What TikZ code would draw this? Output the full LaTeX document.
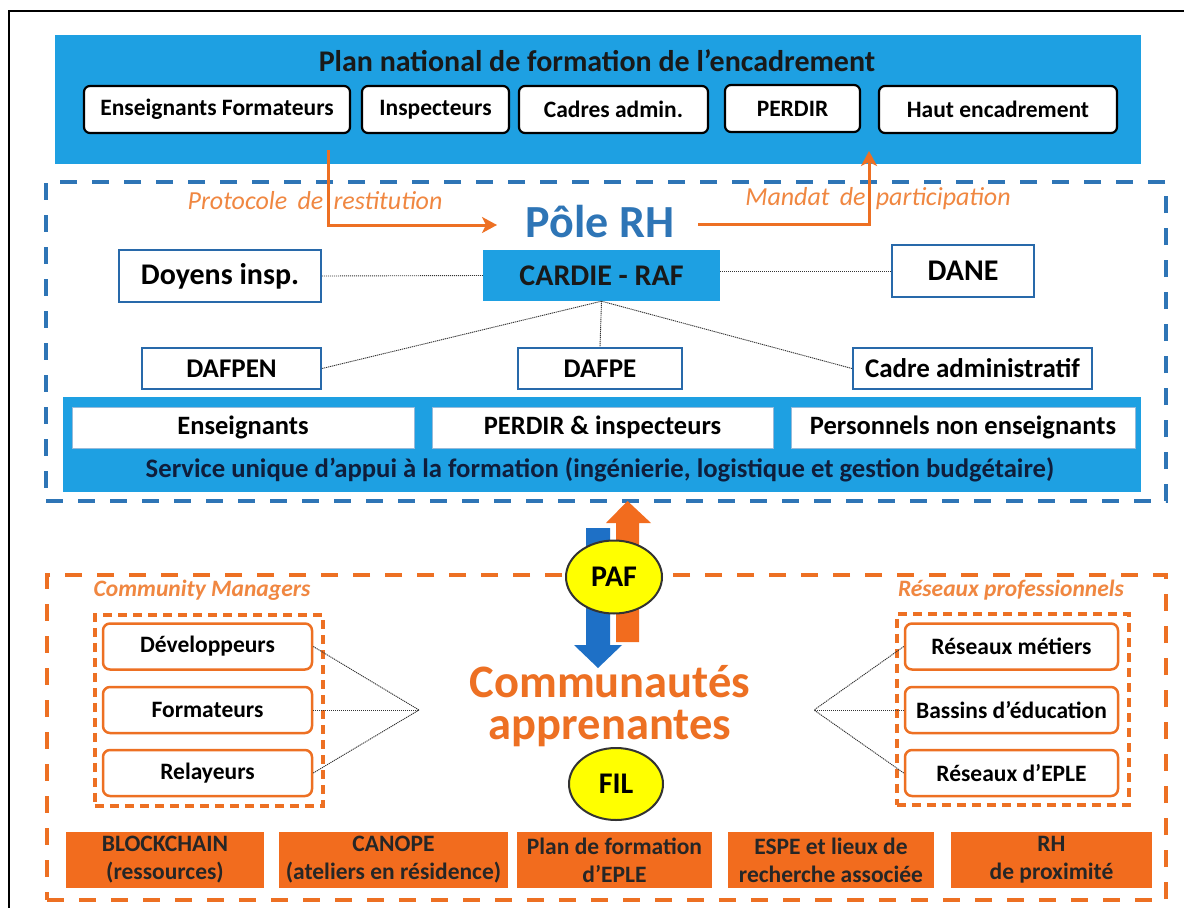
\documentclass[tikz,border=0pt]{standalone}
\usepackage{fontspec}
\setmainfont{Carlito}
\usetikzlibrary{arrows.meta,shapes.geometric}
\definecolor{bannerblue}{RGB}{30,160,226}
\definecolor{dashblue}{RGB}{46,117,182}
\definecolor{boxblue}{RGB}{40,105,170}
\definecolor{orng}{RGB}{237,112,35}
\definecolor{lightorng}{RGB}{240,135,65}
\definecolor{boxorng}{RGB}{242,108,30}
\definecolor{arrblue}{RGB}{30,112,198}
\definecolor{yel}{RGB}{255,255,0}
\definecolor{navytext}{RGB}{15,30,60}
\newcommand{\myfs}[1]{\fontsize{#1}{#1}\selectfont}
\tikzset{
  topbox/.style={draw=black, line width=2.2pt, rounded corners=6pt, fill=white, inner sep=0pt, font=\myfs{23.5}\bfseries},
  bluebox/.style={draw=boxblue, line width=2pt, fill=white, inner sep=0pt},
  whitebox/.style={draw=dashblue!50, line width=1pt, fill=white, inner sep=0pt, font=\myfs{26.5}\bfseries},
  orbox/.style={draw=orng, line width=2.5pt, rounded corners=7pt, fill=white, inner sep=0pt, minimum height=46, font=\myfs{23.5}\bfseries},
  botbox/.style={fill=boxorng, inner sep=0pt, minimum height=56, align=center, font=\fontsize{23.5}{28}\selectfont\bfseries, text=black!85},
  dotline/.style={black!80, line width=0.9pt, dash pattern=on 1.2pt off 0.8pt},
  bigdash/.style={line width=4pt, dash pattern=on 17pt off 15pt},
  smalldash/.style={draw=orng, line width=3.5pt, dash pattern=on 9pt off 6pt},
  flowarrow/.style={orng, line width=3pt, -{Stealth[length=15pt,width=16pt,inset=4pt]}},
  oval/.style={ellipse, draw=black!80, line width=2pt, fill=yel, inner sep=0pt, font=\myfs{30}\bfseries},
}
\begin{document}
\begin{tikzpicture}[x=1pt,y=-1pt]
\useasboundingbox (0,0) rectangle (1184,908);
\fill[white] (0,0) rectangle (1184,908);
\draw[line width=1.5pt] (9,910) -- (9,11) -- (1186,11);

% top banner
\node[fill=bannerblue, inner sep=0pt, minimum width=1086, minimum height=129, anchor=north west] (banner) at (55,35) {};
\node[font=\myfs{30}\bfseries, text=black!90] (title) at (597,61) {Plan national de formation de l’encadrement};
\node[topbox, minimum width=266, minimum height=47] (ef) at (217,109.5) {Enseignants Formateurs};
\node[topbox, minimum width=147, minimum height=47] (insp) at (435.5,109.5) {Inspecteurs};
\node[topbox, minimum width=189, minimum height=47] (cadres) at (613.5,109.5) {Cadres admin.};
\node[topbox, minimum width=135, minimum height=47] (perdir) at (792.5,108.5) {PERDIR};
\node[topbox, minimum width=238, minimum height=47] (haut) at (998,109.5) {Haut encadrement};

% Pole RH frame
\node[draw=dashblue, bigdash, inner sep=0pt, minimum width=1120, minimum height=319, anchor=north west] (rhframe) at (44,180) {};
\node[font=\myfs{46}\bfseries, text=dashblue] (pole) at (600,222) {Pôle RH};
\node[font=\myfs{26}\itshape, text=lightorng] (proto) at (315,201) {Protocole\, de\, restitution};
\node[font=\myfs{26}\itshape, text=lightorng] (mandat) at (878,199) {Mandat\, de\, participation};
\coordinate (a1s) at (328,150);
\coordinate (a1e) at (497,225);
\coordinate (a2s) at (698,224);
\coordinate (a2e) at (869,151);
\draw[flowarrow] (a1s) |- (a1e);
\draw[flowarrow] (a2s) -| (a2e);

\node[fill=bannerblue, inner sep=0pt, minimum width=237, minimum height=51, font=\myfs{30}\bfseries, text=black!90] (cardie) at (601.5,275.5) {CARDIE - RAF};
\node[bluebox, minimum width=202, minimum height=52, font=\myfs{30}\bfseries] (doyens) at (220,276) {Doyens insp.};
\node[bluebox, minimum width=142, minimum height=52, font=\myfs{30}\bfseries] (dane) at (963,271) {DANE};
\node[bluebox, minimum width=179, minimum height=41, font=\myfs{27}\bfseries] (dafpen) at (231.5,368.5) {DAFPEN};
\node[bluebox, minimum width=164, minimum height=41, font=\myfs{27}\bfseries] (dafpe) at (600,368.5) {DAFPE};
\node[bluebox, minimum width=239, minimum height=41, font=\myfs{27}\bfseries] (cadre) at (972.5,368.5) {Cadre administratif};
\draw[dotline] (doyens.east) -- (cardie.west);
\draw[dotline] (cardie.east |- dane.west) -- (dane.west);
\draw[dotline] (cardie.south) -- (dafpen.east);
\draw[dotline] (cardie.south) -- (dafpe.north);
\draw[dotline] (cardie.south) -- (cadre.west);

% service banner
\node[fill=bannerblue, inner sep=0pt, minimum width=1078, minimum height=95, anchor=north west] (service) at (63,397) {};
\node[whitebox, minimum width=342, minimum height=41] (ens) at (243,427.5) {Enseignants};
\node[whitebox, minimum width=341, minimum height=41] (perdinsp) at (602.5,427.5) {PERDIR \& inspecteurs};
\node[whitebox, minimum width=344, minimum height=41] (pne) at (963,427.5) {Personnels non enseignants};
\node[font=\myfs{26.7}\bfseries, text=navytext] (servtext) at (600,470) {Service unique d’appui à la formation (ingénierie, logistique et gestion budgétaire)};

% Communautes frame
\node[draw=orng, bigdash, inner sep=0pt, minimum width=1119, minimum height=325, anchor=north west] (comframe) at (45,573) {};
\node[font=\myfs{23.5}\bfseries\itshape, text=lightorng] (cm) at (202,590) {Community Managers};
\node[font=\myfs{23.5}\bfseries\itshape, text=lightorng] (rp) at (1011,590) {Réseaux professionnels};
\node[smalldash, inner sep=0pt, minimum width=228, minimum height=191, anchor=north west] (cmframe) at (93,613) {};
\node[smalldash, inner sep=0pt, minimum width=232, minimum height=191, anchor=north west] (rpframe) at (895,612) {};
\node[orbox, minimum width=209] (dev) at (207.5,646.5) {Développeurs};
\node[orbox, minimum width=209] (form) at (207.5,710) {Formateurs};
\node[orbox, minimum width=209] (rel) at (207.5,773) {Relayeurs};
\node[orbox, minimum width=213] (rm) at (1011.5,646.5) {Réseaux métiers};
\node[orbox, minimum width=213] (be) at (1011.5,710) {Bassins d’éducation};
\node[orbox, minimum width=213] (re) at (1011.5,773) {Réseaux d’EPLE};
\coordinate (cl) at (419,710);
\coordinate (cr) at (814,710);
\draw[dotline] (dev.east) -- (cl);
\draw[dotline] (form.east) -- (cl);
\draw[dotline] (rel.east) -- (cl);
\draw[dotline] (rm.west) -- (cr);
\draw[dotline] (be.west) -- (cr);
\draw[dotline] (re.west) -- (cr);

\node[font=\myfs{46.5}\bfseries, text=orng, align=center] (comm) at (610,706) {Communautés\\[-4pt]apprenantes};

% block arrows
\fill[arrblue] (586,528) -- (610,528) -- (610,645) -- (622,645) -- (598,668) -- (574,645) -- (586,645) -- cycle;
\fill[boxorng] (616,642) -- (639,642) -- (639,523) -- (651,523) -- (627.5,501) -- (606,523) -- (616,523) -- cycle;
\node[oval, minimum width=96, minimum height=73] (paf) at (614,577) {PAF};
\node[oval, minimum width=94, minimum height=72] (fil) at (616,784) {FIL};

% bottom boxes
\node[botbox, minimum width=198] (block) at (165,860) {BLOCKCHAIN\\(ressources)};
\node[botbox, minimum width=229] (canope) at (393.5,860) {CANOPE\\(ateliers en résidence)};
\node[botbox, minimum width=195] (plan) at (614.5,860) {Plan de formation\\d’EPLE};
\node[botbox, minimum width=206] (espe) at (831,860) {ESPE et lieux de\\recherche associée};
\node[botbox, minimum width=201] (rh) at (1051.5,860) {RH\\de proximité};
\end{tikzpicture}
\end{document}
